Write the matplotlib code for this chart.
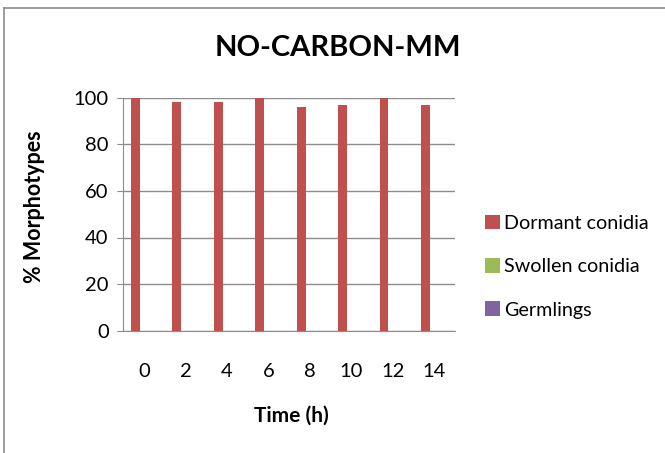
import matplotlib
matplotlib.use("Agg")
import matplotlib.pyplot as plt
import numpy as np
from matplotlib.lines import Line2D

plt.rcParams['font.family'] = ['Lato', 'DejaVu Sans']

times = ["0", "2", "4", "6", "8", "10", "12", "14"]
dormant = [100, 98, 98, 100, 96, 97, 100, 97]
swollen = [0, 0, 0, 0, 0, 0, 0, 0]
germlings = [0, 0, 0, 0, 0, 0, 0, 0]
series_names = ["Dormant conidia", "Swollen conidia", "Germlings"]
colors = ["#C0504D", "#9BBB59", "#8064A2"]
yticks = [0, 20, 40, 60, 80, 100]

W, H = 665, 453
fig = plt.figure(figsize=(W / 100, H / 100), dpi=100)
ax = fig.add_axes([123.3 / W, 1 - 330.7 / H, (455 - 123.3) / W, (330.7 - 97.7) / H])

x = np.arange(len(times))
bw = 0.21
handles = []
for i, (vals, name, c) in enumerate(zip([dormant, swollen, germlings], series_names, colors)):
    b = ax.bar(x + (i - 1) * bw, vals, width=bw, color=c, label=name, zorder=3)
    handles.append(b)

ax.set_xlim(-0.5, len(times) - 0.5)
ax.set_ylim(0, 100)
ax.set_yticks(yticks)
ax.set_xticks(x)
ax.set_xticklabels(times)
ax.grid(axis='y', color='#8C8C8C', linewidth=1.0, zorder=0)
for s in ['top', 'right']:
    ax.spines[s].set_visible(False)
ax.spines['left'].set_color('#8C8C8C')
ax.spines['bottom'].set_color('#8C8C8C')
ax.tick_params(axis='y', length=4.5, color='#8C8C8C', labelsize=14.5, pad=6)
ax.tick_params(axis='x', length=0, labelsize=14.5, pad=23)

fig.text(35 / W, 1 - 207 / H, "% Morphotypes", rotation=90, ha='center', va='center',
         fontsize=15.5, fontweight='bold')
fig.text(291 / W, 1 - 416 / H, "Time (h)", ha='center', va='center',
         fontsize=15, fontweight='bold')
fig.text(337.5 / W, 1 - 48 / H, "NO-CARBON-MM", ha='center', va='center',
         fontsize=21, fontweight='bold')

leg = fig.legend(handles=handles, labels=series_names, loc='upper left',
                 bbox_to_anchor=(467 / W, 1 - 197 / H), frameon=False,
                 fontsize=14.2, labelspacing=1.33, handlelength=0.75, handleheight=0.75,
                 handletextpad=0.25)

# outer border (left and top)
fig.add_artist(Line2D([4 / W, 4 / W], [0, 1 - 8 / H], transform=fig.transFigure,
                      color='#8C8C8C', linewidth=1.2))
fig.add_artist(Line2D([4 / W, 1], [1 - 8 / H, 1 - 8 / H], transform=fig.transFigure,
                      color='#8C8C8C', linewidth=1.2))

fig.savefig("out.png", dpi=100)
